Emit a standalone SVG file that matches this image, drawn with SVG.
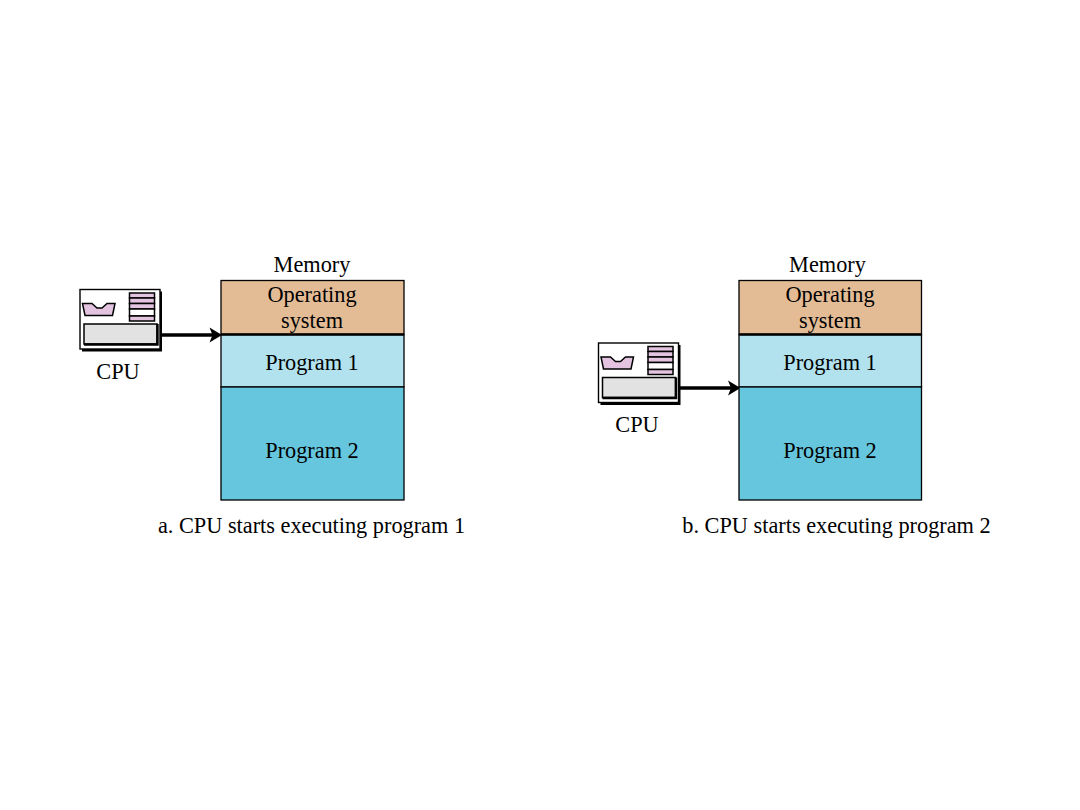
<svg xmlns="http://www.w3.org/2000/svg" width="1080" height="810" viewBox="0 0 1080 810">
<style>
text{font-family:"Liberation Serif","Times New Roman",serif;font-size:22.3px;fill:#000;text-anchor:middle}
.os{fill:#e3bc96;stroke:#000;stroke-width:1.3}
.p1{fill:#b2e2ee;stroke:#000;stroke-width:1.3}
.p2{fill:#66c6dd;stroke:#000;stroke-width:1.3}
.sep{stroke:#000;stroke-width:2.4}
.wire{stroke:#000;stroke-width:3.4;fill:none}
.case{fill:#fff;stroke:#000;stroke-width:1.4}
.shadow{fill:#000}
.slot{fill:#e2e2e2;stroke:#000;stroke-width:1.5}
.slotedge{fill:none;stroke:#000;stroke-width:2.4}
.pink{fill:#e3c3e0;stroke:#000;stroke-width:1.5}
.blank{fill:#fff;stroke:#000;stroke-width:1.5}
.head{fill:#000}
</style>
<defs>
<!-- CPU box: front panel, drive tray, register stack -->
<g id="cpu-icon">
<path class="shadow" d="M2 2H82V62H2Z"/>
<rect class="case" x="0" y="0" width="80" height="59.500"/>
<path class="pink" d="M2.500 14H12L17 18.500H22L27 14H35L32.500 26H5Z"/>
<rect class="pink" x="49.500" y="3.500" width="25" height="5"/>
<rect class="pink" x="49.500" y="8.500" width="25" height="5.500"/>
<rect class="pink" x="49.500" y="14" width="25" height="5.500"/>
<rect class="blank" x="49.500" y="19.500" width="25" height="7"/>
<rect class="pink" x="49.500" y="26.500" width="25" height="5"/>
<rect class="slot" x="4" y="34.500" width="73" height="20"/>
<path class="slotedge" d="M77.500 34.500V55H4"/>
</g>
</defs>

<g id="connectors">
<path class="wire" d="M161 335H213"/>
<path class="head" d="M209.500 327.500L222 335L209.500 342.500L212.500 335Z"/>
<path class="wire" d="M679 388H732"/>
<path class="head" d="M728 380.500L740.500 388L728 395.500L731 388Z"/>
</g>

<g id="memory-a">
<text x="312" y="272">Memory</text>
<rect class="os" x="221" y="280.500" width="183" height="54"/>
<rect class="p1" x="221" y="334.500" width="183" height="52.500"/>
<rect class="p2" x="221" y="387" width="183" height="113"/>
<path class="sep" d="M221 334.500H404"/>
<text x="312" y="301.500">Operating</text>
<text x="312" y="327.500">system</text>
<text x="312" y="369.500">Program 1</text>
<text x="312" y="457.500">Program 2</text>
</g>

<g id="cpu-a">
<use href="#cpu-icon" x="80" y="289.500"/>
<text x="118" y="378.500">CPU</text>
</g>

<g id="memory-b">
<text x="827.500" y="272">Memory</text>
<rect class="os" x="739" y="280.500" width="182.500" height="54"/>
<rect class="p1" x="739" y="334.500" width="182.500" height="52.500"/>
<rect class="p2" x="739" y="387" width="182.500" height="113"/>
<path class="sep" d="M739 334.500H921.500"/>
<text x="830" y="301.500">Operating</text>
<text x="830" y="327.500">system</text>
<text x="830" y="369.500">Program 1</text>
<text x="830" y="457.500">Program 2</text>
</g>

<g id="cpu-b">
<use href="#cpu-icon" x="598.500" y="343"/>
<text x="637" y="431.500">CPU</text>
</g>

<g id="captions">
<text x="311.500" y="533">a. CPU starts executing program 1</text>
<text x="836.500" y="533">b. CPU starts executing program 2</text>
</g>
</svg>
